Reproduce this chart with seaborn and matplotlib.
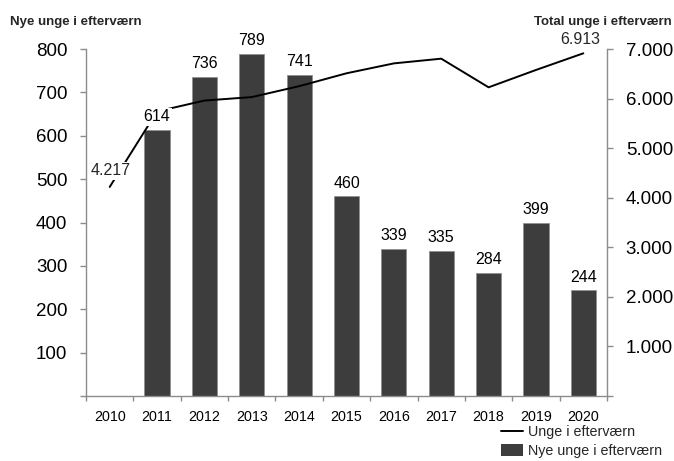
import numpy as np
import pandas as pd
import matplotlib
matplotlib.use("Agg")
import matplotlib.pyplot as plt
import seaborn as sns
from matplotlib.lines import Line2D
from matplotlib.patches import Patch
from matplotlib.ticker import FixedLocator

# Data
years = ["2010", "2011", "2012", "2013", "2014", "2015",
         "2016", "2017", "2018", "2019", "2020"]
new_youth = [np.nan, 614, 736, 789, 741, 460, 339, 335, 284, 399, 244]
total_youth = [4217, 5740, 5960, 6030, 6250, 6510, 6710, 6805, 6227, 6577, 6913]
left_ticks = [0, 100, 200, 300, 400, 500, 600, 700, 800]
right_ticks = [0, 1000, 2000, 3000, 4000, 5000, 6000, 7000]

BAR_COLOR = "#3d3d3d"
SPINE_COLOR = "#8c8c8c"


def dk(v):
    return f"{int(v):,}".replace(",", ".")


sns.set_theme(style="white")
plt.rcParams["font.family"] = ["Liberation Sans", "DejaVu Sans"]

df = pd.DataFrame({"year": years, "new": new_youth})
positions = np.arange(len(years))

fig = plt.figure(figsize=(6.74, 4.61), dpi=100)
ax = fig.add_axes([0.1276, 0.141, 0.7730, 0.7527])

sns.barplot(data=df, x="year", y="new", order=years, color=BAR_COLOR,
            saturation=1, width=0.53, edgecolor="#909090", linewidth=0.6,
            ax=ax, zorder=2)

ax2 = ax.twinx()
sns.lineplot(x=positions, y=total_youth, ax=ax2, color="black",
             linewidth=1.4, zorder=3)

ax.set_xlim(-0.5, len(years) - 0.5)
ax.set_ylim(0, 800)
ax2.set_ylim(0, 7000)
ax.set_xlabel("")
ax.set_ylabel("")
ax2.set_ylabel("")

# Spines
for a in (ax, ax2):
    a.spines["top"].set_visible(False)
    for s in a.spines.values():
        s.set_color(SPINE_COLOR)
        s.set_linewidth(1.0)
ax.spines["right"].set_visible(False)
ax2.spines["left"].set_visible(False)
ax2.spines["bottom"].set_visible(False)

# Left axis ticks
ax.yaxis.set_major_locator(FixedLocator(left_ticks))
ax.set_yticklabels(["" if t == 0 else str(t) for t in left_ticks])
ax.tick_params(axis="y", left=True, direction="out", length=4.5, width=1,
               color=SPINE_COLOR, labelsize=13.5, pad=9, labelcolor="black")

# Right axis ticks
ax2.yaxis.set_major_locator(FixedLocator(right_ticks))
ax2.set_yticklabels(["" if t == 0 else dk(t) for t in right_ticks])
ax2.tick_params(axis="y", right=True, direction="out", length=4.5, width=1,
                color=SPINE_COLOR, labelsize=13.5, pad=9, labelcolor="black")

# Category axis: labels centred, tick marks between categories
ax.set_xticks(positions)
ax.set_xticklabels(years)
ax.set_xticks(np.arange(-0.5, len(years)), minor=True)
ax.tick_params(axis="x", which="major", bottom=True, length=0, labelsize=10.3,
               pad=10, labelcolor="black")
ax.tick_params(axis="x", which="minor", bottom=True, direction="out",
               length=3.5, width=1, color=SPINE_COLOR)

# Bar value labels
for x, v in zip(positions, new_youth):
    if np.isnan(v):
        continue
    ax2.annotate(str(int(v)), xy=(x, v), xycoords=ax.transData,
                 xytext=(0, 4), textcoords="offset points",
                 ha="center", va="bottom", fontsize=11.5, color="black",
                 zorder=5,
                 bbox=dict(boxstyle="square,pad=0.1", fc="white", ec="none"))

# Line end labels
ax2.annotate(dk(total_youth[0]), xy=(positions[0], total_youth[0]),
             xytext=(1, 11.5), textcoords="offset points",
             ha="center", va="center", fontsize=11.5, zorder=5,
             bbox=dict(boxstyle="square,pad=0.1", fc="white", ec="none"))
ax2.annotate(dk(total_youth[-1]), xy=(positions[-1], total_youth[-1]),
             xytext=(-2, 10), textcoords="offset points",
             ha="center", va="center", fontsize=11.5, zorder=5,
             bbox=dict(boxstyle="square,pad=0.1", fc="white", ec="none"))

# Axis titles
fig.text(0.015, 0.952, "Nye unge i efterværn", fontsize=9.5,
         fontweight="bold", ha="left", va="center")
fig.text(0.997, 0.952, "Total unge i efterværn", fontsize=9.5,
         fontweight="bold", ha="right", va="center")

# Legend
handles = [Line2D([0], [0], color="black", linewidth=1.4),
           Patch(facecolor=BAR_COLOR, edgecolor="none")]
fig.legend(handles, ["Unge i efterværn", "Nye unge i efterværn"],
           loc="lower right", bbox_to_anchor=(0.995, -0.012), frameon=False,
           fontsize=10.3, handlelength=1.5, handleheight=1.0,
           handletextpad=0.35, labelspacing=0.3, borderaxespad=0.2)

fig.savefig("out.png", dpi=100)
